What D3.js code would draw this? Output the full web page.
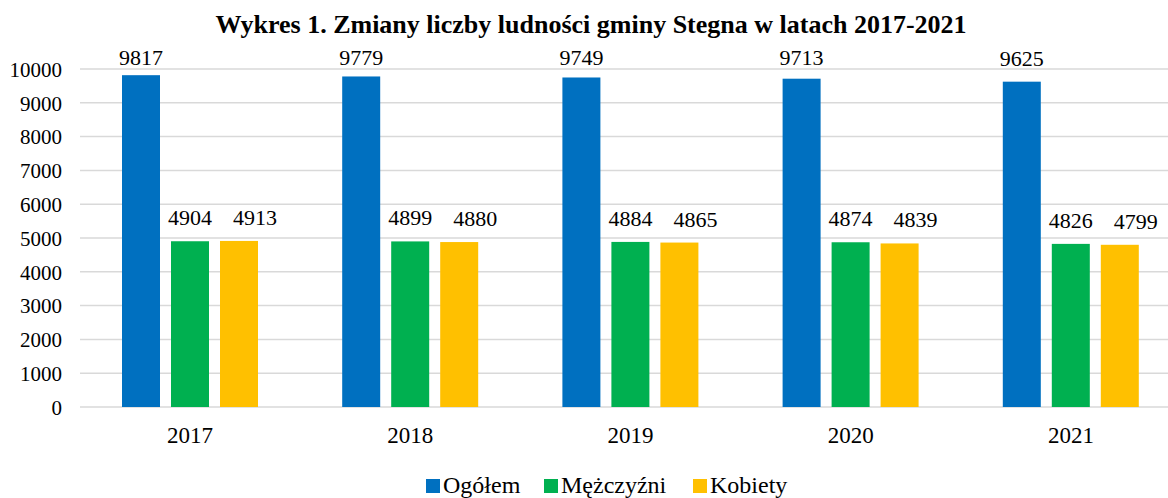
<!DOCTYPE html>
<html>
<head>
<meta charset="utf-8">
<script src="https://cdn.jsdelivr.net/npm/d3@7"></script>
<style>
  body { margin: 0; background: #fff; }
  svg text { font-family: "Liberation Serif", "Times New Roman", serif !important; fill: #000; }
</style>
</head>
<body>
<div id="viz"></div>
<script>
const years = ['2017', '2018', '2019', '2020', '2021'];
const seriesNames = ['Ogółem', 'Mężczyźni', 'Kobiety'];
const ogolem = [9817, 9779, 9749, 9713, 9625];
const mezczyzni = [4904, 4899, 4884, 4874, 4826];
const kobiety = [4913, 4880, 4865, 4839, 4799];
const yTicks = [0, 1000, 2000, 3000, 4000, 5000, 6000, 7000, 8000, 9000, 10000];
const colors = ['#0070C0', '#00B050', '#FFC000'];

const width = 1168, height = 498;
const margin = {top: 69, left: 80, bottom: 91};
const values = [ogolem, mezczyzni, kobiety];
const serif = '"Liberation Serif", "Times New Roman", serif';
// the Kobiety labels sit a bit to the right so they don't run into the Mężczyźni ones
const labelShift = [0, 0, 16];

const svg = d3.select('#viz')
    .append('svg')
    .attr('width', width)
    .attr('height', height)
    .attr('font-family', serif);

const x = d3.scaleBand()
    .domain(years)
    .range([margin.left, margin.left + 5 * 220.2]);

const xs = d3.scaleBand()
    .domain(seriesNames)
    .range([42, 178])
    .paddingInner(11 / 49);

const y = d3.scaleLinear()
    .domain([0, 10000])
    .range([height - margin.bottom, margin.top]);

// title
svg.append('text')
    .attr('x', 591)
    .attr('y', 33)
    .attr('text-anchor', 'middle')
    .style('font-weight', 'bold')
    .style('font-size', '26px')
    .text('Wykres 1. Zmiany liczby ludności gminy Stegna w latach 2017-2021');

// gridlines
svg.append('g')
    .selectAll('line')
    .data(yTicks)
    .join('line')
    .attr('x1', margin.left)
    .attr('x2', width)
    .attr('y1', d => y(d))
    .attr('y2', d => y(d))
    .attr('stroke', '#d9d9d9')
    .attr('stroke-width', 1.5);

// y axis labels
svg.append('g')
    .attr('transform', `translate(${margin.left - 18},0)`)
    .call(d3.axisLeft(y).tickValues(yTicks).tickSize(0).tickPadding(0).tickFormat(d3.format('d')))
    .call(g => g.select('.domain').remove())
    .attr('font-family', serif)
    .selectAll('text')
    .style('font-size', '21px')
    .attr('dy', '0.35em');

// x axis labels
svg.append('g')
    .attr('transform', `translate(0,${y(0)})`)
    .call(d3.axisBottom(x).tickSize(0).tickPadding(20))
    .call(g => g.select('.domain').remove())
    .attr('font-family', serif)
    .selectAll('text')
    .style('font-size', '23px');

// bars
const rows = [];
years.forEach((yr, i) => {
    seriesNames.forEach((s, j) => rows.push({year: yr, series: s, idx: j, value: values[j][i], color: colors[j]}));
});

const bars = svg.append('g')
    .selectAll('.bar-group')
    .data(rows)
    .join('g')
    .attr('class', 'bar-group');

bars.append('rect')
    .attr('x', d => x(d.year) + xs(d.series))
    .attr('y', d => y(d.value))
    .attr('width', xs.bandwidth())
    .attr('height', d => y(0) - y(d.value))
    .style('fill', d => d.color);

// labels above bars, kept inside the plot area like Excel does
bars.append('text')
    .text(d => d.value)
    .attr('x', d => x(d.year) + xs(d.series) + xs.bandwidth() / 2 + labelShift[d.idx])
    .attr('y', d => Math.max(y(d.value) - 16, 65))
    .attr('text-anchor', 'middle')
    .style('font-size', '22px');

// legend
const legendX = [426, 544, 693];
const legend = svg.append('g')
    .selectAll('g')
    .data(seriesNames)
    .join('g')
    .attr('transform', (d, i) => `translate(${legendX[i]},479)`);

legend.append('rect')
    .attr('width', 14)
    .attr('height', 14)
    .style('fill', (d, i) => colors[i]);

legend.append('text')
    .attr('x', 17)
    .attr('y', 14)
    .style('font-size', '24px')
    .text(d => d);
</script>
</body>
</html>
